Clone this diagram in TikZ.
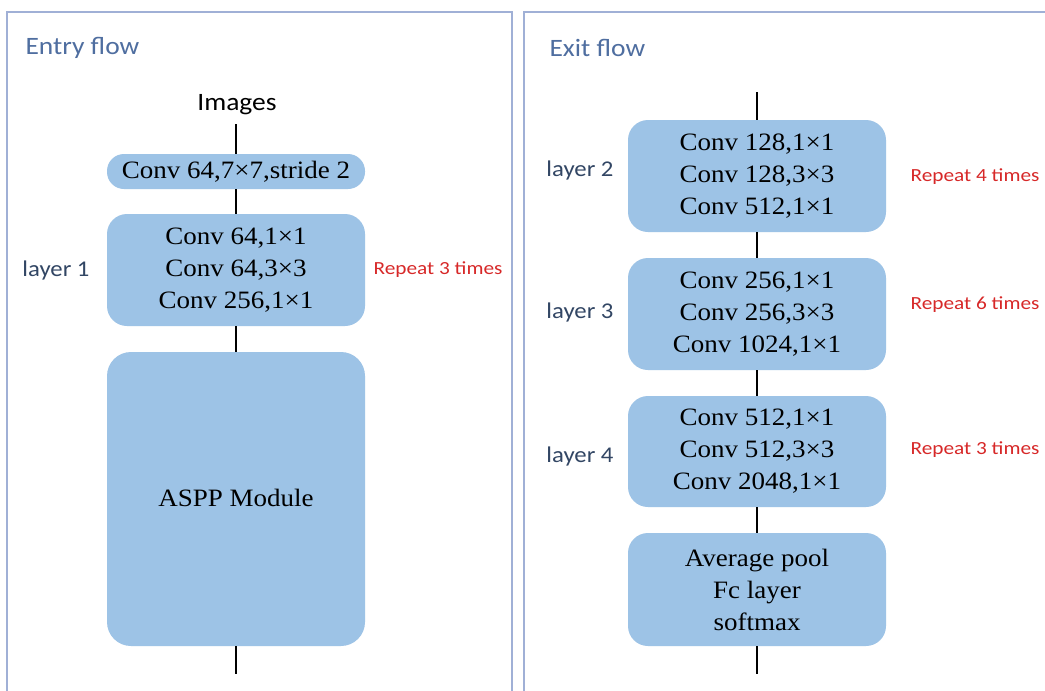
\documentclass[tikz,border=0pt]{standalone}
\usepackage{fontspec}
\setmainfont{Liberation Serif}[FakeStretch=1.08]
\newfontfamily\calfont{Carlito}[FakeStretch=1.1]
\newfontfamily\calfontw{Carlito}[FakeStretch=1.15]
\definecolor{boxblue}{RGB}{157,195,230}
\definecolor{framec}{RGB}{160,176,214}
\definecolor{titlec}{RGB}{79,110,160}
\definecolor{labc}{RGB}{50,70,100}
\definecolor{repc}{RGB}{215,40,40}
\tikzset{
  blk/.style={draw=none, fill=boxblue, rounded corners=20pt, minimum width=258pt, align=center, inner sep=0pt, font=\fontsize{25}{32}\selectfont},
  conn/.style={line width=2.6pt, black},
  title/.style={font=\calfont\fontsize{25}{28}\selectfont, text=titlec, anchor=west},
  lab/.style={font=\calfont\fontsize{22.5}{26}\selectfont, text=labc},
  rep/.style={font=\calfontw\fontsize{18.5}{22}\selectfont, text=repc},
  frame/.style={draw=framec, line width=1.6pt}
}
\begin{document}
\begin{tikzpicture}[x=1pt,y=-1pt]
\useasboundingbox (0,0) rectangle (1045,691);
\fill[white] (0,0) rectangle (1045,691);
% frames
\draw[frame] (7,700) -- (7,12) -- (512,12) -- (512,700);
\draw[frame] (524,700) -- (524,12) -- (1050,12);
\node[title] (t1) at (22,48) {Entry flow};
\node[title] (t2) at (546,48) {Exit flow};
% entry flow
\node[font=\calfont\fontsize{25}{28}\selectfont] (img) at (237,105) {Images};
\node[blk, minimum height=35pt, rounded corners=17pt] (c1) at (236,171.5) {Conv 64,7\texttimes7,stride 2};
\node[blk, minimum height=112pt] (l1) at (236,270) {Conv 64,1\texttimes1\\Conv 64,3\texttimes3\\Conv 256,1\texttimes1};
\node[blk, minimum height=294pt, rounded corners=24pt] (aspp) at (236,499) {};
\node (asppt) at (236,498) {\fontsize{25}{28}\selectfont ASPP Module};
\coordinate (e1) at (236,674);
\draw[conn] (236,124) -- (c1.north);
\draw[conn] (c1.south) -- (l1.north);
\draw[conn] (l1.south) -- (aspp.north);
\draw[conn] (aspp.south) -- (e1);
\node[lab] (lab1) at (56,270) {layer 1};
\node[rep] (r1) at (438,270) {Repeat 3 times};
% exit flow
\coordinate (s2) at (757,92);
\node[blk, minimum height=112pt] (l2) at (757,176) {Conv 128,1\texttimes1\\Conv 128,3\texttimes3\\Conv 512,1\texttimes1};
\node[blk, minimum height=112pt] (l3) at (757,314) {Conv 256,1\texttimes1\\Conv 256,3\texttimes3\\Conv 1024,1\texttimes1};
\node[blk, minimum height=111pt] (l4) at (757,451.5) {Conv 512,1\texttimes1\\Conv 512,3\texttimes3\\Conv 2048,1\texttimes1};
\node[blk, minimum height=113pt] (avg) at (757,589.5) {Average pool\\Fc layer\\softmax};
\coordinate (e2) at (757,674);
\draw[conn] (s2) -- (l2.north);
\draw[conn] (l2.south) -- (l3.north);
\draw[conn] (l3.south) -- (l4.north);
\draw[conn] (l4.south) -- (avg.north);
\draw[conn] (avg.south) -- (e2);
\node[lab] (lab2) at (580,170) {layer 2};
\node[lab] (lab3) at (580,312) {layer 3};
\node[lab] (lab4) at (580,456) {layer 4};
\node[rep] (r2) at (975,177) {Repeat 4 times};
\node[rep] (r3) at (975,305) {Repeat 6 times};
\node[rep] (r4) at (975,450) {Repeat 3 times};
\end{tikzpicture}
\end{document}
